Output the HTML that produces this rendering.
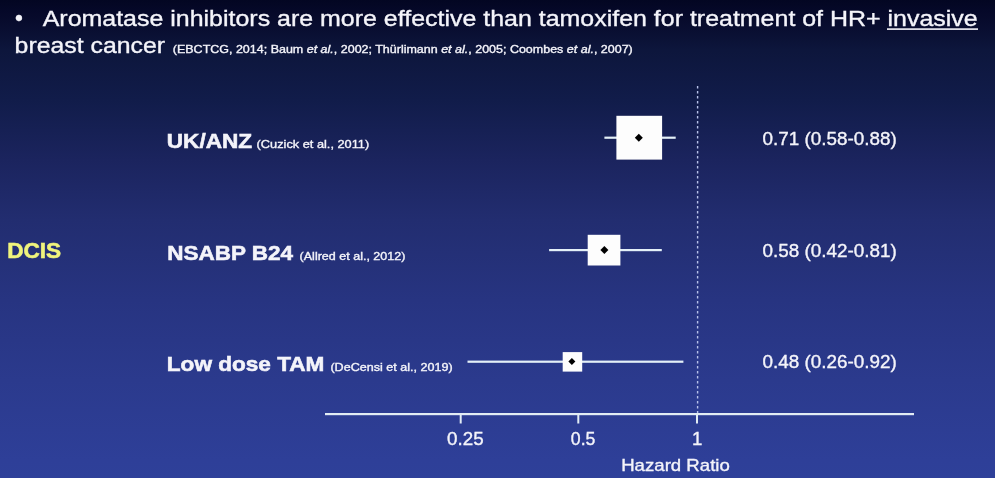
<!DOCTYPE html>
<html>
<head>
<meta charset="utf-8">
<style>
html,body{margin:0;padding:0;width:995px;height:478px;overflow:hidden;background:#1b2256;}
svg{display:block;}
text{font-family:"Liberation Sans",Arial,sans-serif;stroke:currentColor;stroke-width:0.35px;paint-order:stroke;}
.w{color:#f4f4fa;}
.y{color:#f0f47c;}
text[font-weight="bold"]{stroke-width:0.55px;}
</style>
</head>
<body>
<svg width="995" height="478" viewBox="0 0 995 478">
<defs>
<linearGradient id="bg" gradientUnits="userSpaceOnUse" x1="0" y1="0" x2="0" y2="478">
<stop offset="0" stop-color="#030622"/>
<stop offset="0.021" stop-color="#050828"/>
<stop offset="0.05" stop-color="#080c2e"/>
<stop offset="0.1046" stop-color="#0d163c"/>
<stop offset="0.2092" stop-color="#111c4a"/>
<stop offset="0.3347" stop-color="#1b245e"/>
<stop offset="0.4603" stop-color="#222d70"/>
<stop offset="0.6276" stop-color="#273481"/>
<stop offset="0.795" stop-color="#2b3a8d"/>
<stop offset="0.9623" stop-color="#2e3f98"/>
<stop offset="1" stop-color="#2e4099"/>
</linearGradient>
<filter id="soft" x="-5%" y="-5%" width="110%" height="110%"><feGaussianBlur stdDeviation="0.42"/></filter>
</defs>
<rect x="0" y="0" width="995" height="478" fill="url(#bg)"/>
<g filter="url(#soft)">

<!-- title -->
<g fill="#f4f4fa" class="w">
<text x="15.1" y="25.3" font-size="22.5">•</text>
<text x="42.7" y="26.1" font-size="22.5" textLength="935" lengthAdjust="spacingAndGlyphs">Aromatase inhibitors are more effective than tamoxifen for treatment of HR+ invasive</text>
<rect x="887" y="28.3" width="91" height="1.6"/>
<text x="14.6" y="52.5" font-size="22" textLength="150.4" lengthAdjust="spacingAndGlyphs">breast cancer</text>
<text x="172.8" y="52.6" font-size="11.2" textLength="460" lengthAdjust="spacingAndGlyphs">(EBCTCG, 2014; Baum <tspan font-style="italic">et al.</tspan>, 2002; Thürlimann <tspan font-style="italic">et al.</tspan>, 2005; Coombes <tspan font-style="italic">et al.</tspan>, 2007)</text>
</g>

<!-- DCIS -->
<text class="y" x="7.2" y="257.8" font-size="21.3" font-weight="bold" fill="#f0f47c" textLength="54" lengthAdjust="spacingAndGlyphs">DCIS</text>

<!-- row labels -->
<g fill="#f4f4fa" class="w">
<text x="166.8" y="147.6" font-size="19.8" font-weight="bold" textLength="85.4" lengthAdjust="spacingAndGlyphs">UK/ANZ</text>
<text x="256.6" y="147.6" font-size="11.2" textLength="112.6" lengthAdjust="spacingAndGlyphs">(Cuzick et al., 2011)</text>
<text x="167.2" y="259.8" font-size="19.8" font-weight="bold" textLength="125.8" lengthAdjust="spacingAndGlyphs">NSABP B24</text>
<text x="299.6" y="259.8" font-size="11.2" textLength="105.8" lengthAdjust="spacingAndGlyphs">(Allred et al., 2012)</text>
<text x="166.8" y="370.6" font-size="19.8" font-weight="bold" textLength="157.6" lengthAdjust="spacingAndGlyphs">Low dose TAM</text>
<text x="330.4" y="370.6" font-size="11.2" textLength="122.2" lengthAdjust="spacingAndGlyphs">(DeCensi et al., 2019)</text>

<!-- values -->
<text x="762.6" y="144.9" font-size="18" textLength="134.2" lengthAdjust="spacingAndGlyphs">0.71 (0.58-0.88)</text>
<text x="762.6" y="256.5" font-size="18" textLength="134.2" lengthAdjust="spacingAndGlyphs">0.58 (0.42-0.81)</text>
<text x="762.6" y="368.1" font-size="18" textLength="134.2" lengthAdjust="spacingAndGlyphs">0.48 (0.26-0.92)</text>

<!-- axis labels -->
<text x="447" y="444.9" font-size="18" textLength="36.6" lengthAdjust="spacingAndGlyphs">0.25</text>
<text x="570.8" y="444.9" font-size="18" textLength="24.6" lengthAdjust="spacingAndGlyphs">0.5</text>
<text x="692" y="444.9" font-size="18" textLength="10.4" lengthAdjust="spacingAndGlyphs">1</text>
<text x="621.2" y="470.7" font-size="16.6" textLength="108.6" lengthAdjust="spacingAndGlyphs">Hazard Ratio</text>
</g>

<!-- dashed reference line -->
<line x1="697.6" y1="86" x2="697.6" y2="413" stroke="#b8c2ea" stroke-width="1.4" stroke-dasharray="2.5 2.5"/>

<!-- axis -->
<g fill="#e2ecf4">
<rect x="325" y="413" width="589" height="2.2"/>
<rect x="459.7" y="414" width="2" height="9.5"/>
<rect x="577.3" y="414" width="2" height="9.5"/>
<rect x="696" y="414" width="2" height="9.5"/>
</g>

<!-- forest plot -->
<g fill="#e4f0f8">
<rect x="604.4" y="136.6" width="71.3" height="2.2"/>
<rect x="616.4" y="115.8" width="45.7" height="43.8" fill="#fdfdfd"/>
<rect x="549.1" y="249" width="112.7" height="2.2"/>
<rect x="587.7" y="234.8" width="32.7" height="30.7" fill="#fdfdfd"/>
<rect x="467.5" y="360.6" width="215.9" height="2.2"/>
<rect x="562.7" y="352.1" width="19.5" height="19.5" fill="#fdfdfd"/>
</g>
<g fill="#000000">
<polygon points="638.8,133.7 642.8,137.7 638.8,141.7 634.8,137.7"/>
<polygon points="604.4,246.1 608.4,250.1 604.4,254.1 600.4,250.1"/>
<polygon points="571.9,358.1 575.4,361.6 571.9,365.1 568.4,361.6"/>
</g>
</g>
</svg>
</body>
</html>
